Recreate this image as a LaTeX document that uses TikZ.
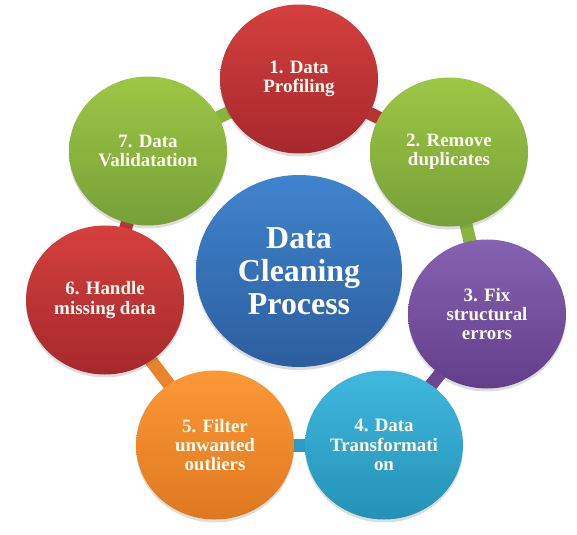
\documentclass[tikz,border=0pt]{standalone}
\usepackage{fontspec}
\setmainfont{Liberation Serif}
\usetikzlibrary{shapes.geometric,shadows,backgrounds}
\definecolor{redT}{RGB}{212,64,62}
\definecolor{redB}{RGB}{166,40,44}
\definecolor{redL}{RGB}{184,50,52}
\definecolor{grnT}{RGB}{158,198,70}
\definecolor{grnB}{RGB}{118,160,56}
\definecolor{grnL}{RGB}{138,180,64}
\definecolor{purT}{RGB}{134,98,178}
\definecolor{purB}{RGB}{98,62,138}
\definecolor{purL}{RGB}{108,70,148}
\definecolor{cyaT}{RGB}{64,184,222}
\definecolor{cyaB}{RGB}{36,146,182}
\definecolor{cyaL}{RGB}{44,158,194}
\definecolor{orgT}{RGB}{252,152,54}
\definecolor{orgB}{RGB}{222,120,32}
\definecolor{orgL}{RGB}{232,132,42}
\definecolor{bluT}{RGB}{64,132,206}
\definecolor{bluB}{RGB}{44,94,158}
\definecolor{txt}{RGB}{255,252,240}
\tikzset{
  stage/.style={ellipse, inner sep=0pt, minimum width=158bp, minimum height=149bp,
    align=center, text=txt, font=\bfseries\fontsize{19}{19.5}\selectfont,
    drop shadow={shadow xshift=0bp, shadow yshift=-3bp, opacity=0.22, fill=black!60}},
  hub/.style={ellipse, inner sep=0pt, minimum width=206bp, minimum height=192bp,
    align=center, text=white, font=\bfseries\fontsize{32}{33}\selectfont,
    top color=bluT, bottom color=bluB,
    drop shadow={shadow xshift=0bp, shadow yshift=-3bp, opacity=0.22, fill=black!60}},
  link/.style={line width=13bp}
}
\begin{document}
\begin{tikzpicture}[x=1bp,y=-1bp]
\useasboundingbox (0,0) rectangle (577,535);
\node[stage, top color=redT, bottom color=redB] (s1) at (299,79) {1. Data\\Profiling};
\node[stage, top color=grnT, bottom color=grnB] (s2) at (449,152) {2. Remove\\duplicates};
\node[stage, top color=purT, bottom color=purB] (s3) at (487,314) {3. Fix\\structural\\errors};
\node[stage, top color=cyaT, bottom color=cyaB] (s4) at (384,445) {4. Data\\Transformati\\on};
\node[stage, top color=orgT, bottom color=orgB] (s5) at (215,445) {5. Filter\\unwanted\\outliers};
\node[stage, top color=redT, bottom color=redB] (s6) at (105,300) {6. Handle\\missing data};
\node[stage, top color=grnT, bottom color=grnB] (s7) at (148,151) {7. Data\\Validatation};
\node[hub] (c) at (299,271) {Data\\Cleaning\\Process};
\begin{scope}[on background layer]
\draw[link, redL] (s1.center) -- (s2.center);
\draw[link, grnL] (s2.center) -- (s3.center);
\draw[link, purL] (s3.center) -- (s4.center);
\draw[link, cyaL] (s4.center) -- (s5.center);
\draw[link, orgL] (s5.center) -- (s6.center);
\draw[link, redL] (s6.center) -- (s7.center);
\draw[link, grnL] (s7.center) -- (s1.center);
\end{scope}
\end{tikzpicture}
\end{document}
